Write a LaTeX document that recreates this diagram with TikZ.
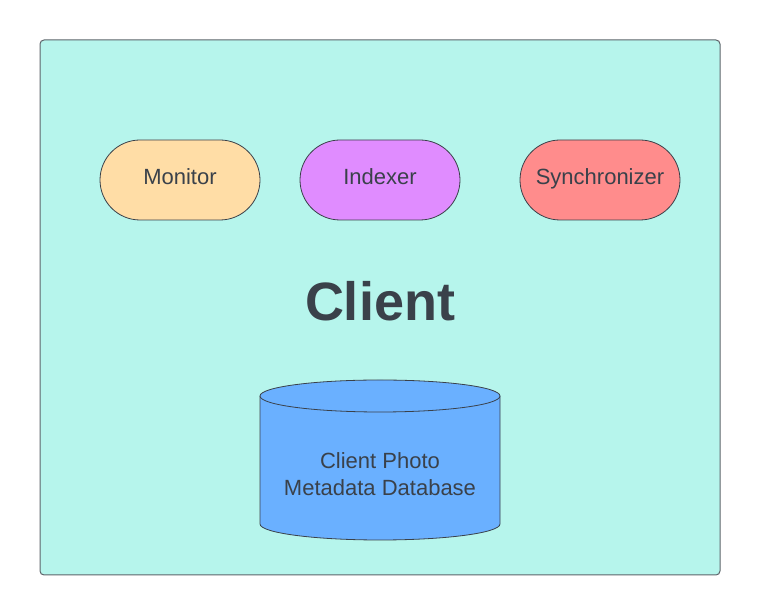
\documentclass[tikz,border=0pt]{standalone}
\usepackage{fontspec}
\setmainfont{Liberation Sans}
\usetikzlibrary{positioning}
\definecolor{clientbg}{RGB}{182,245,236}
\definecolor{monitorfill}{RGB}{255,221,166}
\definecolor{indexerfill}{RGB}{224,140,255}
\definecolor{syncfill}{RGB}{255,140,140}
\definecolor{dbfill}{RGB}{106,176,255}
\definecolor{inkgray}{RGB}{58,65,74}
\definecolor{framegray}{RGB}{94,100,106}

\begin{document}
\begin{tikzpicture}
  [x=1pt, y=1pt, node distance=40pt,
   every node/.style={text=inkgray, font=\fontsize{22}{27}\selectfont},
   pill/.style={draw=inkgray, line width=0.8pt, rounded corners=40pt, outer sep=0pt,
                minimum width=160pt, minimum height=80pt, text height=16pt, text depth=6pt},
   store/.style={draw=inkgray, line width=0.8pt, fill=dbfill}]
  \useasboundingbox (0,0) rectangle (760,615);
  \draw[framegray, fill=clientbg, line width=1pt, rounded corners=4pt] (40,40) rectangle (720,575);
  \node[pill, fill=monitorfill] (monitor) at (180,435) {Monitor};
  \node[pill, fill=indexerfill, right=of monitor] (indexer) {Indexer};
  \node[pill, fill=syncfill, right=60pt of indexer] (sync) {Synchronizer};
  \node[font=\fontsize{54}{60}\selectfont\bfseries] (client) at (380,314) {Client};
  \draw[store] (260,219) -- (260,91) arc[start angle=180, end angle=360, x radius=120, y radius=16] -- (500,219);
  \draw[store] (380,219) ellipse[x radius=120, y radius=16];
  \node[align=center] (dblabel) at (380,141) {Client Photo\\Metadata Database};
\end{tikzpicture}
\end{document}
